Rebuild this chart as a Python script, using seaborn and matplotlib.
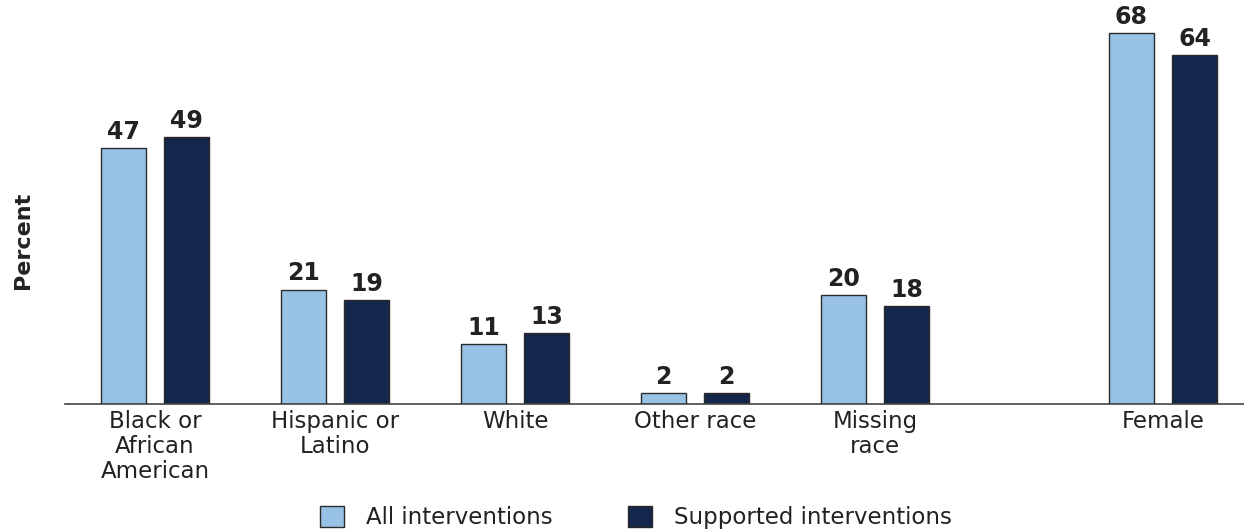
import matplotlib
matplotlib.use("Agg")
import matplotlib.pyplot as plt
import seaborn as sns
import pandas as pd

categories = ["Black or\nAfrican\nAmerican", "Hispanic or\nLatino", "White", "Other race", "Missing\nrace", "Female"]
all_interventions = [47, 21, 11, 2, 20, 68]
supported_interventions = [49, 19, 13, 2, 18, 64]
series_names = ["All interventions", "Supported interventions"]

# layout: Female group is set apart from the race groups
group_positions = [0, 1, 2, 3, 4, 5.6]

rows = []
for pos, a, s in zip(group_positions, all_interventions, supported_interventions):
    rows.append({"pos": pos, "series": series_names[0], "value": a})
    rows.append({"pos": pos, "series": series_names[1], "value": s})
df = pd.DataFrame(rows)

sns.set_theme(style="white")
plt.rcParams["font.family"] = ["DejaVu Sans"]

fig = plt.figure(figsize=(12.44, 5.31), dpi=100)
ax = fig.add_axes([65/1244, (531-404)/531, 1 - 65/1244, 404/531])

palette = {series_names[0]: "#97c2e6", series_names[1]: "#14264b"}
sns.barplot(data=df, x="pos", y="value", hue="series", hue_order=series_names,
            palette=palette, native_scale=True, width=0.7, gap=0.2857,
            edgecolor="#2a2a2a", linewidth=1.0, saturation=1, ax=ax)

for cont in ax.containers:
    ax.bar_label(cont, fmt="%d", padding=3, fontsize=17, fontweight="bold", color="#222222")

ax.set_xlim(-0.5, (1244-155)/180)
ax.set_ylim(0, 404/5.45)
ax.set_xticks(group_positions)
ax.set_xticklabels(categories, fontsize=16.5, color="#222222", linespacing=1.12)
ax.tick_params(axis="x", length=0, pad=4)
ax.set_yticks([])
ax.set_xlabel("")
ax.set_ylabel("Percent", fontsize=16, fontweight="bold", color="#222222")
ax.yaxis.set_label_coords(-0.027, 0.406)
for side in ["top", "right", "left"]:
    ax.spines[side].set_visible(False)
ax.spines["bottom"].set_color("#444444")
ax.spines["bottom"].set_linewidth(1.2)

handles, labels = ax.get_legend_handles_labels()
ax.get_legend().remove()
fig.legend(handles, labels, loc="lower center", bbox_to_anchor=(0.511, -0.036), ncol=2,
           frameon=False, fontsize=16.5, handlelength=1.05, handleheight=1.05,
           handletextpad=0.95, columnspacing=3.3, labelcolor="#222222")

fig.savefig("out.png", dpi=100)
